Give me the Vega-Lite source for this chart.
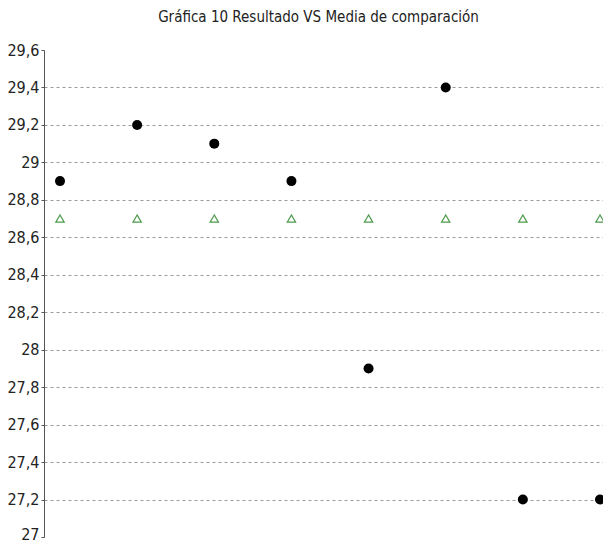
{
  "$schema": "https://vega.github.io/schema/vega-lite/v6.json",
  "width": 559,
  "height": 487,
  "autosize": {"type": "none"},
  "padding": {"left": 44, "top": 50, "right": 0, "bottom": 7},
  "background": "white",
  "config": {
    "view": {"stroke": null},
    "font": "DejaVu Sans Condensed"
  },
  "title": {
    "text": "Gráfica 10 Resultado VS Media de comparación",
    "font": "DejaVu Sans Condensed",
    "fontSize": 15,
    "fontWeight": "normal",
    "color": "#222222",
    "anchor": "middle",
    "baseline": "alphabetic",
    "offset": 5,
    "dx": -5
  },
  "datasets": {
    "resultado": [
      {"muestra": 1, "valor": 28.9},
      {"muestra": 2, "valor": 29.2},
      {"muestra": 3, "valor": 29.1},
      {"muestra": 4, "valor": 28.9},
      {"muestra": 5, "valor": 27.9},
      {"muestra": 6, "valor": 29.4},
      {"muestra": 7, "valor": 27.2},
      {"muestra": 8, "valor": 27.2}
    ],
    "media": [
      {"muestra": 1, "valor": 28.7},
      {"muestra": 2, "valor": 28.7},
      {"muestra": 3, "valor": 28.7},
      {"muestra": 4, "valor": 28.7},
      {"muestra": 5, "valor": 28.7},
      {"muestra": 6, "valor": 28.7},
      {"muestra": 7, "valor": 28.7},
      {"muestra": 8, "valor": 28.7}
    ]
  },
  "encoding": {
    "x": {
      "field": "muestra",
      "type": "quantitative",
      "scale": {"domain": [0.7926, 8.039], "nice": false, "zero": false},
      "axis": null
    },
    "y": {
      "field": "valor",
      "type": "quantitative",
      "scale": {"domain": [27, 29.6], "nice": false, "zero": false},
      "axis": {
        "title": null,
        "values": [27, 27.2, 27.4, 27.6, 27.8, 28, 28.2, 28.4, 28.6, 28.8, 29, 29.2, 29.4, 29.6],
        "format": "~g",
        "labelExpr": "replace(datum.label, '.', ',')",
        "labelFont": "DejaVu Sans Condensed",
        "labelFontSize": 16,
        "labelColor": "#222222",
        "labelPadding": 2,
        "labelOffset": {"condition": {"test": "datum.value < 27.1", "value": -3}, "value": 0},
        "domainColor": "#555555",
        "tickColor": "#555555",
        "tickSize": 3,
        "grid": true,
        "gridColor": "#9a9a9a",
        "gridDash": [3, 3],
        "gridWidth": 1,
        "gridOpacity": {"condition": {"test": "datum.value < 27.1 || datum.value > 29.5", "value": 0}, "value": 1}
      }
    }
  },
  "layer": [
    {
      "data": {"name": "media"},
      "mark": {"type": "point", "shape": "triangle-up", "filled": false, "color": "#4c9a4c", "size": 70, "strokeWidth": 1.2, "opacity": 1},
      "encoding": {}
    },
    {
      "data": {"name": "resultado"},
      "mark": {"type": "point", "shape": "circle", "filled": true, "color": "#000000", "size": 100, "opacity": 1},
      "encoding": {}
    }
  ]
}
